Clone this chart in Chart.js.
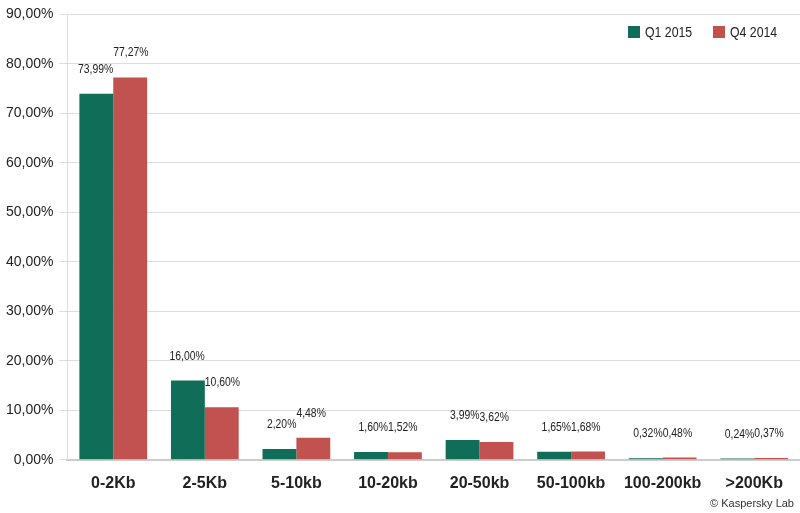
<!DOCTYPE html>
<html><head><meta charset="utf-8">
<script src="https://cdn.jsdelivr.net/npm/chart.js@4"></script>
<style>body{margin:0;background:#fff}#w{width:800px;height:513px;position:relative}
#c{position:absolute;left:0;top:0}
#cp{position:absolute;right:6px;bottom:4px;font:11px 'Liberation Sans Narrow','Liberation Sans',sans-serif;color:#333}</style>
</head><body><div id="w"><canvas id="c" width="800" height="513"></canvas><div id="cp">© Kaspersky Lab</div></div>
<script>
const categories=['0-2Kb','2-5Kb','5-10kb','10-20kb','20-50kb','50-100kb','100-200kb','>200Kb'];
const q12015=[73.99,16.00,2.20,1.60,3.99,1.65,0.32,0.24];
const q42014=[77.27,10.60,4.48,1.52,3.62,1.68,0.48,0.37];
const yTicks=[0,10,20,30,40,50,60,70,80,90];
const FONT="'Liberation Sans Narrow','Liberation Sans',sans-serif";
const fmt=v=>v.toFixed(2).replace('.',',')+'%';
function narrowText(c,t,x,y,align,sx){c.save();c.translate(x,y);c.scale(sx,1);c.textAlign=align;c.fillText(t,0,0);c.restore();}
const labelPlugin={id:'lbl',afterDatasetsDraw(ch){
 const c=ch.ctx;c.save();c.font='13px '+FONT;c.fillStyle='#222';c.textBaseline='bottom';
 ch.data.datasets.forEach((ds,di)=>{ch.getDatasetMeta(di).data.forEach((b,i)=>{
  const w=b.width;
  if(di===0)narrowText(c,fmt(ds.data[i]),b.x+w/2,b.y-18,'right',0.8);
  else narrowText(c,fmt(ds.data[i]),b.x-w/2,b.y-18,'left',0.8);
 });});
 // legend
 const a=ch.chartArea;const items=[['Q1 2015','#106e58',628],['Q4 2014','#c25250',713]];
 c.font='15px '+FONT;c.textBaseline='middle';
 items.forEach(([t,col,x])=>{c.fillStyle=col;c.fillRect(x,26,12,12);c.fillStyle='#222';narrowText(c,t,x+17,33,'left',0.82);});
 c.restore();}};
new Chart(document.getElementById('c'),{type:'bar',
 data:{labels:categories,datasets:[
  {label:'Q1 2015',data:q12015,backgroundColor:'#106e58'},
  {label:'Q4 2014',data:q42014,backgroundColor:'#c25250'}]},
 options:{responsive:false,animation:false,
  layout:{padding:{left:0,right:0,top:2,bottom:14}},
  datasets:{bar:{categoryPercentage:0.74,barPercentage:1}},
  plugins:{legend:{display:false},tooltip:{enabled:false}},
  scales:{
   x:{grid:{display:false},border:{color:'#ccc',width:2},ticks:{color:'#222',padding:6,font:{family:FONT,size:16,weight:'bold'}}},
   y:{min:0,max:90,afterBuildTicks:a=>{a.ticks=yTicks.map(v=>({value:v}));},
    grid:{color:'#ddd'},border:{color:'#ddd'},
    ticks:{color:'#222',padding:6,font:{family:FONT,size:14},callback:v=>v.toFixed(2).replace('.',',')+'%'}}}},
 plugins:[labelPlugin]});
</script></body></html>
